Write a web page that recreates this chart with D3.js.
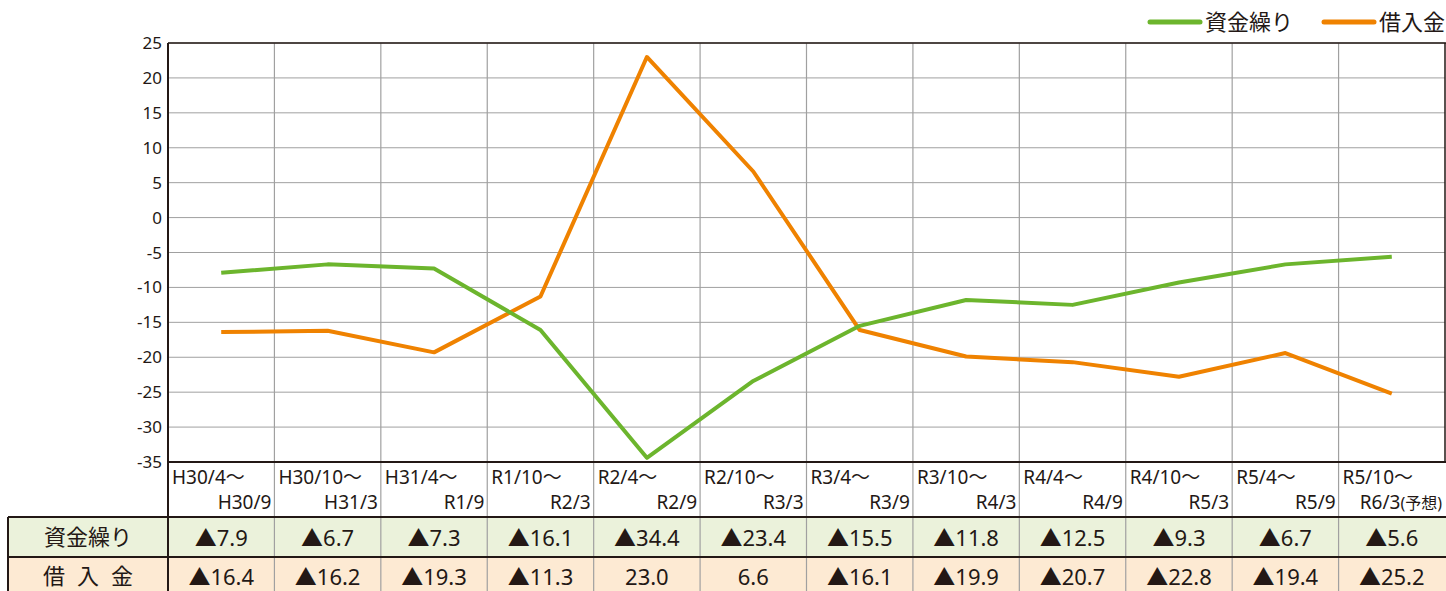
<!DOCTYPE html>
<html>
<head>
<meta charset="utf-8">
<script src="https://cdn.jsdelivr.net/npm/d3@7"></script>
<style>
  body { margin: 0; background: #fff; }
  svg { font-family: "Noto Sans CJK JP", "Noto Sans", sans-serif; }
  .num { font-family: "Noto Sans", "Noto Sans CJK JP", sans-serif; }
</style>
</head>
<body>
<svg id="chart" width="1446" height="591"></svg>
<script>
// data
const periodsTop = ["H30/4～", "H30/10～", "H31/4～", "R1/10～", "R2/4～", "R2/10～", "R3/4～", "R3/10～", "R4/4～", "R4/10～", "R5/4～", "R5/10～"];
const periodsBottom = ["H30/9", "H31/3", "R1/9", "R2/3", "R2/9", "R3/3", "R3/9", "R4/3", "R4/9", "R5/3", "R5/9", "R6/3(予想)"];
const cashFlow = [-7.9, -6.7, -7.3, -16.1, -34.4, -23.4, -15.5, -11.8, -12.5, -9.3, -6.7, -5.6];
const borrowing = [-16.4, -16.2, -19.3, -11.3, 23.0, 6.6, -16.1, -19.9, -20.7, -22.8, -19.4, -25.2];
const yTicks = [25, 20, 15, 10, 5, 0, -5, -10, -15, -20, -25, -30, -35];
const seriesNames = ["資金繰り", "借入金"];
const rowLabels = ["資金繰り", "借入金"];

const GREEN = "#6cb52d", ORANGE = "#ef8200", DARK = "#231815", GRID = "#a0a0a0";

const svg = d3.select("#chart");
const plotLeft = 168, plotRight = 1445, plotTop = 43, plotBottom = 462;
const catBottom = 517, row1Bottom = 557, row2Bottom = 600, tableLeft = 8;

const x = d3.scaleBand().domain(d3.range(12)).range([plotLeft, plotRight]);
const y = d3.scaleLinear().domain([-35, 25]).range([plotBottom, plotTop]);

// table backgrounds
svg.append("rect").attr("x", tableLeft).attr("y", catBottom).attr("width", 1446 - tableLeft).attr("height", row1Bottom - catBottom).attr("fill", "#ebf2db");
svg.append("rect").attr("x", tableLeft).attr("y", row1Bottom).attr("width", 1446 - tableLeft).attr("height", row2Bottom - row1Bottom).attr("fill", "#fdead3");

// horizontal grid
svg.append("g").selectAll("line").data(yTicks).enter().append("line")
    .attr("x1", plotLeft).attr("x2", plotRight)
    .attr("y1", d => y(d)).attr("y2", d => y(d))
    .attr("stroke", GRID).attr("stroke-width", 1);

// vertical grid, down through table
svg.append("g").selectAll("line").data(d3.range(1, 12)).enter().append("line")
    .attr("x1", d => x(d)).attr("x2", d => x(d))
    .attr("y1", plotTop).attr("y2", row2Bottom)
    .attr("stroke", GRID).attr("stroke-width", 1.2);

// frame
svg.append("line").attr("x1", plotLeft).attr("x2", plotRight + 1).attr("y1", plotTop).attr("y2", plotTop).attr("stroke", DARK).attr("stroke-width", 1.5);
svg.append("line").attr("x1", plotLeft).attr("x2", plotRight + 1).attr("y1", plotBottom).attr("y2", plotBottom).attr("stroke", DARK).attr("stroke-width", 2);
svg.append("line").attr("x1", plotLeft).attr("x2", plotLeft).attr("y1", plotTop).attr("y2", row2Bottom).attr("stroke", DARK).attr("stroke-width", 2);
svg.append("line").attr("x1", plotRight).attr("x2", plotRight).attr("y1", plotTop).attr("y2", plotBottom).attr("stroke", DARK).attr("stroke-width", 1.5);
svg.append("line").attr("x1", tableLeft).attr("x2", 1446).attr("y1", catBottom).attr("y2", catBottom).attr("stroke", DARK).attr("stroke-width", 2);
svg.append("line").attr("x1", tableLeft).attr("x2", 1446).attr("y1", row1Bottom).attr("y2", row1Bottom).attr("stroke", DARK).attr("stroke-width", 2);
svg.append("line").attr("x1", tableLeft).attr("x2", tableLeft).attr("y1", catBottom).attr("y2", row2Bottom).attr("stroke", DARK).attr("stroke-width", 2);

// y axis labels
svg.append("g").attr("class", "num").selectAll("text").data(yTicks).enter().append("text")
    .attr("x", plotLeft - 6).attr("y", d => y(d) + 6)
    .attr("text-anchor", "end")
    .attr("font-size", 17).attr("fill", DARK)
    .text(d => d);

// category labels
const cats = svg.append("g").attr("class", "num").attr("font-size", 19).attr("fill", DARK);
cats.selectAll(".t1").data(periodsTop).enter().append("text")
    .attr("x", (d, i) => x(i) + 4).attr("y", 484)
    .text(d => d);
cats.selectAll(".t2").data(periodsBottom).enter().append("text")
    .attr("x", (d, i) => x(i) + x.bandwidth() - 3).attr("y", 509)
    .attr("text-anchor", "end")
    .each(function (d) {
        const m = d.match(/^(.*?)(\(.*\))?$/);
        d3.select(this).append("tspan").text(m[1]);
        if (m[2]) d3.select(this).append("tspan").attr("font-size", 16).text(m[2]);
    });

// table values
const fmt = v => (v < 0 ? "▲" + Math.abs(v).toFixed(1) : v.toFixed(1));
[cashFlow, borrowing].forEach((vals, r) => {
    const yy = r === 0 ? 546 : 585;
    svg.append("g").attr("class", "num").selectAll("text").data(vals).enter().append("text")
        .attr("x", (d, i) => x(i) + x.bandwidth() / 2).attr("y", yy)
        .attr("text-anchor", "middle").attr("font-size", 22).attr("fill", DARK)
        .text(fmt);
    svg.append("text")
        .attr("x", (tableLeft + plotLeft) / 2 + (r === 1 ? 6 : 0)).attr("y", yy - 1)
        .attr("text-anchor", "middle").attr("font-size", 22).attr("fill", DARK)
        .attr("letter-spacing", r === 1 ? 12 : 0)
        .text(rowLabels[r]);
});

// lines
const line = d3.line().x((d, i) => x(i) + x.bandwidth() / 2).y(d => y(d));
svg.append("path").datum(borrowing).attr("d", line)
    .attr("fill", "none").attr("stroke", ORANGE).attr("stroke-width", 4).attr("stroke-linejoin", "round");
svg.append("path").datum(cashFlow).attr("d", line)
    .attr("fill", "none").attr("stroke", GREEN).attr("stroke-width", 4).attr("stroke-linejoin", "round");

// legend
const legend = [
    { name: seriesNames[0], color: GREEN, x: 1150 },
    { name: seriesNames[1], color: ORANGE, x: 1324 }
];
legend.forEach(l => {
    svg.append("line").attr("x1", l.x).attr("x2", l.x + 50).attr("y1", 22).attr("y2", 22)
        .attr("stroke", l.color).attr("stroke-width", 5).attr("stroke-linecap", "round");
    svg.append("text").attr("x", l.x + 55).attr("y", 30).attr("font-size", 22).attr("fill", DARK).text(l.name);
});
</script>
</body>
</html>
